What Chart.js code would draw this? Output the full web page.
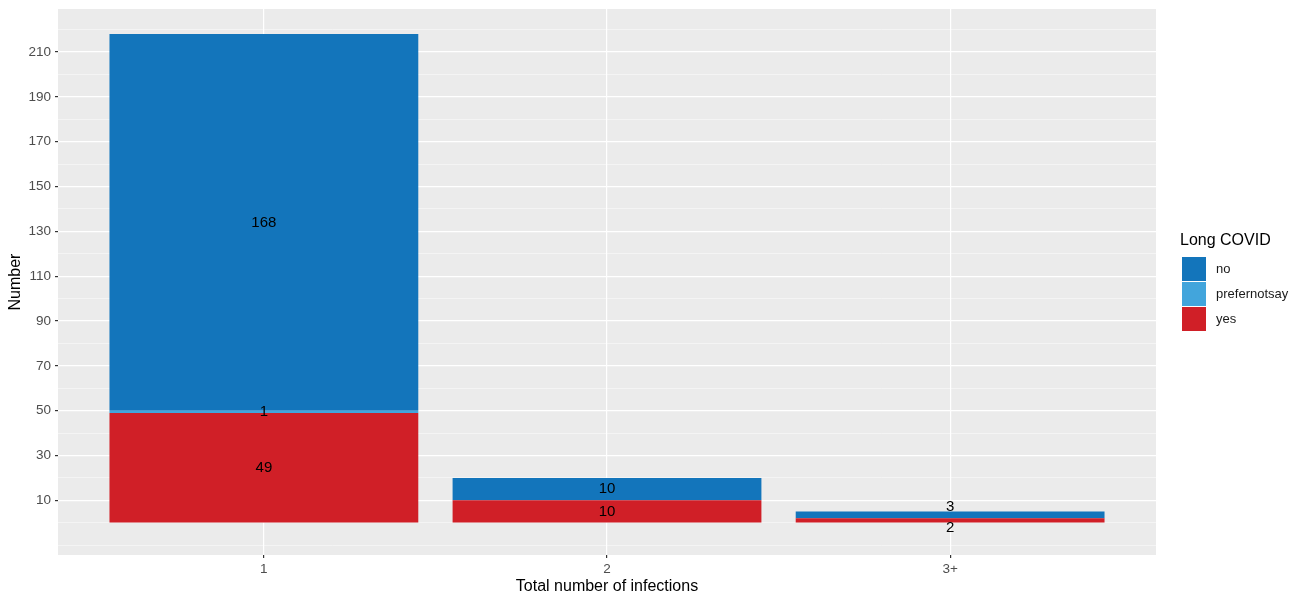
<!DOCTYPE html>
<html>
<head>
<meta charset="utf-8">
<script src="https://cdn.jsdelivr.net/npm/chart.js@4"></script>
<style>
  body { margin: 0; background: #fff; }
  #chart { display: block; }
</style>
</head>
<body>
<canvas id="chart" width="1301" height="597"></canvas>
<script>
// categories on the x axis (total number of infections)
const categories = ['1', '2', '3+'];

// counts per Long COVID answer, stacked bottom to top
const yesValues = [49, 10, 2];
const preferValues = [1, 0, 0];
const noValues = [168, 10, 3];

const seriesNames = ['yes', 'prefernotsay', 'no'];

const yTicks = [10, 30, 50, 70, 90, 110, 130, 150, 170, 190, 210];

let red = '#D01F27';
let lightBlue = '#42A5DC';
let blue = '#1375BB';

const sans = "'Liberation Sans', Arial, sans-serif";

function points(values) {
    return values.map((v, i) => ({ x: i + 1, y: v }));
}

const panelBg = {
    id: 'panelBg',
    beforeDraw(chart) {
        const a = chart.chartArea;
        const ctx = chart.ctx;
        ctx.save();
        ctx.fillStyle = '#EBEBEB';
        ctx.fillRect(a.left, a.top, a.right - a.left, a.bottom - a.top);
        ctx.restore();
    }
};

const barLabels = {
    id: 'barLabels',
    afterDatasetsDraw(chart) {
        const ctx = chart.ctx;
        ctx.save();
        ctx.font = '15px ' + sans;
        ctx.fillStyle = '#000';
        ctx.textAlign = 'center';
        ctx.textBaseline = 'middle';
        chart.data.datasets.forEach((ds, di) => {
            const meta = chart.getDatasetMeta(di);
            ds.data.forEach((p, j) => {
                if (!p.y) return;
                const el = meta.data[j];
                let y = (el.y + el.base) / 2;
                const h = Math.abs(el.base - el.y);
                if (h < 12) {
                    // thin segment: push label off the bar if it is at the top or bottom
                    const below = chart.data.datasets.slice(0, di).some(d => d.data[j].y > 0);
                    const above = chart.data.datasets.slice(di + 1).some(d => d.data[j].y > 0);
                    if (!above && below) y = el.y - 5;
                    else if (!below && above) y = el.base + 5;
                }
                ctx.fillText(String(p.y), el.x, y);
            });
        });
        ctx.restore();
    }
};

const sideLegend = {
    id: 'sideLegend',
    afterDraw(chart) {
        const ctx = chart.ctx;
        const a = chart.chartArea;
        const x = a.right + 26;
        let y = 229;
        ctx.save();
        ctx.fillStyle = '#000';
        ctx.textBaseline = 'middle';
        ctx.textAlign = 'left';
        ctx.font = '16px ' + sans;
        ctx.fillText('Long COVID', x - 2, y + 12);
        y += 28;
        const items = chart.data.datasets.slice().reverse();
        items.forEach(ds => {
            ctx.fillStyle = ds.backgroundColor;
            ctx.fillRect(x, y, 24, 24);
            ctx.fillStyle = '#1a1a1a';
            ctx.font = '13px ' + sans;
            ctx.fillText(ds.label, x + 34, y + 12);
            y += 25;
        });
        ctx.restore();
    }
};

const ctx = document.getElementById('chart').getContext('2d');

const myChart = new Chart(ctx, {
    type: 'bar',
    data: {
        datasets: [
            { label: seriesNames[0], data: points(yesValues), backgroundColor: red },
            { label: seriesNames[1], data: points(preferValues), backgroundColor: lightBlue },
            { label: seriesNames[2], data: points(noValues), backgroundColor: blue },
        ]
    },
    options: {
        responsive: false,
        animation: false,
        layout: {
            padding: { left: 0, top: 9, right: 145, bottom: 0 }
        },
        datasets: {
            bar: {
                barPercentage: 0.9,
                categoryPercentage: 1,
                borderWidth: 0,
            }
        },
        plugins: {
            legend: { display: false },
            tooltip: { enabled: false },
        },
        scales: {
            x: {
                type: 'linear',
                stacked: true,
                offset: false,
                min: 0.4,
                max: 3.6,
                afterBuildTicks(scale) {
                    scale.ticks = categories.map((c, i) => ({ value: i + 1 }));
                },
                afterFit(scale) {
                    scale.height = 42;
                    scale.paddingLeft = 0;
                    scale.paddingRight = 0;
                },
                border: { display: false },
                grid: {
                    offset: false,
                    color: '#FFFFFF',
                    lineWidth: 1.2,
                    tickColor: '#333333',
                    tickLength: 3,
                },
                ticks: {
                    padding: 3,
                    color: '#4D4D4D',
                    font: { family: sans, size: 13.5 },
                    maxRotation: 0,
                    callback: (v) => categories[Math.round(v) - 1] ?? '',
                },
                title: {
                    display: true,
                    text: 'Total number of infections',
                    color: '#000',
                    font: { family: sans, size: 16 },
                    padding: { top: 0, bottom: 1 },
                },
            },
            y: {
                stacked: true,
                min: -14.4,
                max: 229.2,
                afterBuildTicks(scale) {
                    const t = [];
                    for (let v = -10; v <= 220; v += 10) t.push({ value: v });
                    scale.ticks = t;
                },
                afterFit(scale) {
                    scale.width = 58;
                    scale.paddingTop = 0;
                    scale.paddingBottom = 0;
                },
                border: { display: false },
                grid: {
                    color: (c) => yTicks.includes(c.tick.value) ? '#FFFFFF' : 'rgba(255,255,255,0.75)',
                    lineWidth: (c) => yTicks.includes(c.tick.value) ? 1.2 : 0.6,
                    tickColor: (c) => yTicks.includes(c.tick.value) ? '#333333' : 'rgba(0,0,0,0)',
                    tickLength: 3,
                },
                ticks: {
                    padding: 4,
                    color: '#4D4D4D',
                    font: { family: sans, size: 13.5 },
                    callback: (v) => yTicks.includes(v) ? String(v) : '',
                },
                title: {
                    display: true,
                    text: 'Number',
                    color: '#000',
                    font: { family: sans, size: 16 },
                    padding: { top: 6, bottom: 0 },
                },
            }
        }
    },
    plugins: [panelBg, barLabels, sideLegend]
});
</script>
</body>
</html>
